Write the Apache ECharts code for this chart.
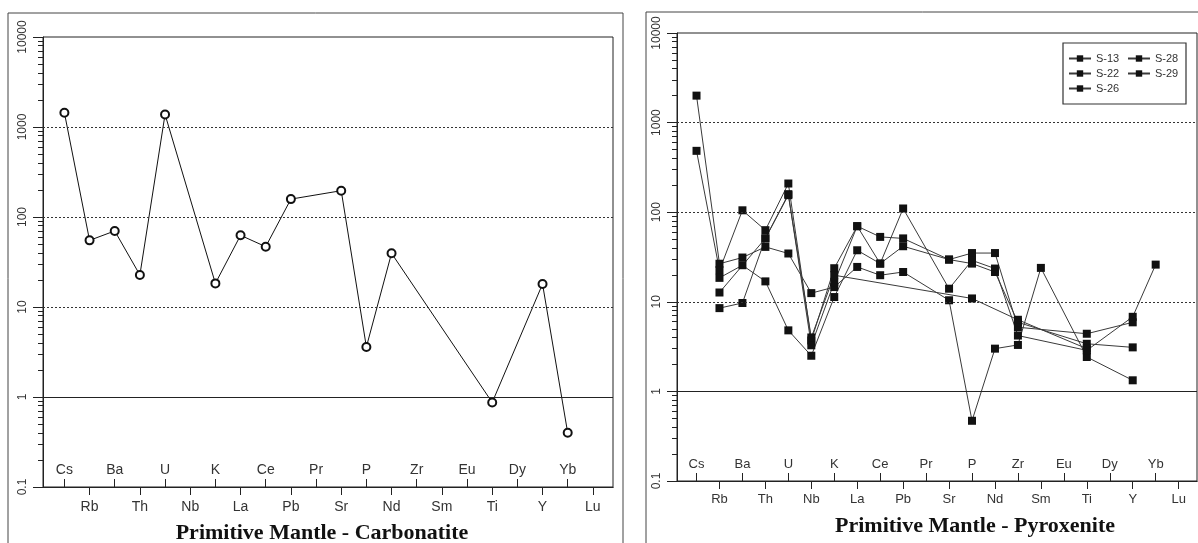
<!DOCTYPE html>
<html><head><meta charset="utf-8">
<script src="https://cdn.jsdelivr.net/npm/echarts@6/dist/echarts.min.js"></script>
<style>html,body{margin:0;padding:0;background:#fff}#c{width:1198px;height:543px}</style>
</head><body><div id="c"></div>
<script>
// ---------- data ----------
const elements = ['Cs','Rb','Ba','Th','U','Nb','K','La','Ce','Pb','Pr','Sr','P','Nd','Zr','Sm','Eu','Ti','Dy','Y','Yb','Lu'];
const yTickLabels = ['0.1','1','10','100','1000','10000'];
const dottedRefs = [10, 100, 1000];
const solidRefs = [1];
const minorTickValues = [0.2,0.3,0.4,0.5,0.6,0.7,0.8,0.9,2,3,4,5,6,7,8,9,20,30,40,50,60,70,80,90,200,300,400,500,600,700,800,900,2000,3000,4000,5000,6000,7000,8000,9000];

const carbonatite = [1440, 55, 70, 22.7, 1380, null, 18.3, 62.6, 46.8, 158, null, 196, 3.6, 39.5, null, null, null, 0.87, null, 18, 0.40, null];

const s13 = [2000, 26.6, 31.2, 41, 34.6, 12.5, 14.6, 24.5, 19.8, 21.5, null, 10.4, 0.47, 3.0, 3.3, 23.9, null, 2.42, null, 1.33, null, null];
const s22 = [484, 22.5, 105, 63, 209, 3.7, 23.7, 69.8, 53, 51, null, 29.6, 35, 35, 5.2, null, null, 4.4, null, 5.9, null, null];
const s26 = [null, 18.5, 25.6, 16.9, 4.8, 2.5, 11.3, 37.6, 26.7, 110, null, 14, 29, 23.5, 4.2, null, null, 2.87, null, 6.8, 26, null];
const s28 = [null, 12.7, null, 51, 159, 3.27, 16.5, 69.8, 26.7, 41.7, null, 29.6, 26.7, 21.5, 5.9, null, null, 3.4, null, 3.1, null, null];
const s29 = [null, 8.5, 9.7, 51, 155, 4.0, 19.8, null, null, null, null, null, 10.9, null, 6.3, null, null, 3.0, null, null, null, null];
const pyroxeniteNames = ['S-13','S-22','S-26','S-28','S-29'];
const pyroxeniteSeries = [s13, s22, s26, s28, s29];

// ---------- layout ----------
const G0 = {left:43, top:37, width:570, height:450};
const G1 = {left:677, top:33, width:520, height:448};
const xMin = -0.85, xMax = 21.8;
const evenIdx = elements.map((e,i)=>i).filter(i=>i%2===0);
const oddIdx = elements.map((e,i)=>i).filter(i=>i%2===1);
const AX = '#222', TXT = '#333';
const SANS = 'Liberation Sans, Arial, sans-serif';

function toPairs(arr){ return arr.map((v,i)=> v==null ? null : [i,v]).filter(Boolean); }

function xAxes(gi, g, fs, m1, m2){
  const base = {gridIndex:gi, type:'value', min:xMin, max:xMax, splitLine:{show:false},
    axisLine:{show:true, onZero:false, lineStyle:{color:AX, width:1}}};
  return [
    Object.assign({}, base, {position:'top', offset:-g.height,
      axisTick:{show:true, customValues:evenIdx, length:8, lineStyle:{color:AX}},
      axisLabel:{show:true, customValues:evenIdx, margin:m1, fontSize:fs, color:TXT, fontFamily:SANS,
        formatter:v=>elements[Math.round(v)]}}),
    Object.assign({}, base, {position:'bottom',
      axisTick:{show:true, customValues:oddIdx, length:8, lineStyle:{color:AX}},
      axisLabel:{show:true, customValues:oddIdx, margin:m2, fontSize:fs, color:TXT, fontFamily:SANS,
        formatter:v=>elements[Math.round(v)]}})
  ];
}
function yAxes(gi, g, fs){
  return [
    {gridIndex:gi, type:'log', logBase:10, min:0.1, max:10000, position:'left',
      axisLine:{show:true, onZero:false, lineStyle:{color:AX, width:1}},
      axisTick:{show:true, length:10, lineStyle:{color:AX}},
      axisLabel:{rotate:90, margin:14, fontSize:fs, color:TXT, fontFamily:SANS,
        formatter:v=>yTickLabels[Math.round(Math.log10(v))+1]},
      splitLine:{show:false}},
    {gridIndex:gi, type:'log', logBase:10, min:0.1, max:10000, position:'right', offset:-g.width,
      axisLine:{show:false, onZero:false},
      axisTick:{show:true, inside:true, customValues:minorTickValues, length:5, lineStyle:{color:AX}},
      axisLabel:{show:false}, splitLine:{show:false}}
  ];
}
const refMarkLine = {silent:true, symbol:'none', label:{show:false}, animation:false,
  data: dottedRefs.map(v=>({yAxis:v, lineStyle:{type:[2,2], color:'#333', width:1}}))
    .concat(solidRefs.map(v=>({yAxis:v, lineStyle:{type:'solid', color:'#222', width:1}})))};

const series = [{
  name:'Carbonatite', type:'line', xAxisIndex:0, yAxisIndex:0, data:toPairs(carbonatite),
  symbol:'emptyCircle', symbolSize:8, lineStyle:{color:'#111', width:1},
  itemStyle:{color:'#111', borderWidth:1}, markLine:refMarkLine, z:3
}];
pyroxeniteNames.forEach((n,k)=>{
  series.push({name:n, type:'line', xAxisIndex:2, yAxisIndex:2, data:toPairs(pyroxeniteSeries[k]),
    symbol:'rect', symbolSize:8, lineStyle:{color:'#3a3a3a', width:1}, itemStyle:{color:'#111'},
    markLine: k===0 ? refMarkLine : undefined, z:3});
});

const legendBase = {orient:'vertical', top:53, itemWidth:22, itemHeight:8, itemGap:4, padding:0,
  textStyle:{fontSize:11, color:TXT, fontFamily:SANS}, selectedMode:false};

const option = {
  animation:false,
  backgroundColor:'#fff',
  grid:[Object.assign({show:true, borderColor:AX, borderWidth:1, containLabel:false}, G0),
        Object.assign({show:true, borderColor:AX, borderWidth:1, containLabel:false}, G1)],
  xAxis: xAxes(0, G0, 14, 10, 13).concat(xAxes(1, G1, 13, 10, 12)),
  yAxis: yAxes(0, G0, 12).concat(yAxes(1, G1, 12)),
  legend:[Object.assign({}, legendBase, {left:1068, data:['S-13','S-22','S-26']}),
          Object.assign({}, legendBase, {left:1127, data:['S-28','S-29']})],
  graphic:[
    {type:'rect', shape:{x:8, y:13, width:615, height:580}, style:{fill:'none', stroke:'#444', lineWidth:1}, z:0},
    {type:'rect', shape:{x:646, y:12, width:600, height:580}, style:{fill:'none', stroke:'#444', lineWidth:1}, z:0},
    {type:'rect', shape:{x:1063, y:43, width:123, height:61}, style:{fill:'#fff', stroke:'#333', lineWidth:1.2}, z:1},
    {type:'text', x:322, y:533, style:{text:'Primitive Mantle - Carbonatite', font:'bold 22px "Liberation Serif", "Times New Roman", serif', fill:'#111', textAlign:'center', textVerticalAlign:'middle'}, z:5},
    {type:'text', x:975, y:526, style:{text:'Primitive Mantle - Pyroxenite', font:'bold 22px "Liberation Serif", "Times New Roman", serif', fill:'#111', textAlign:'center', textVerticalAlign:'middle'}, z:5}
  ],
  series
};
const chart = echarts.init(document.getElementById('c'));
chart.setOption(option);
</script></body></html>
